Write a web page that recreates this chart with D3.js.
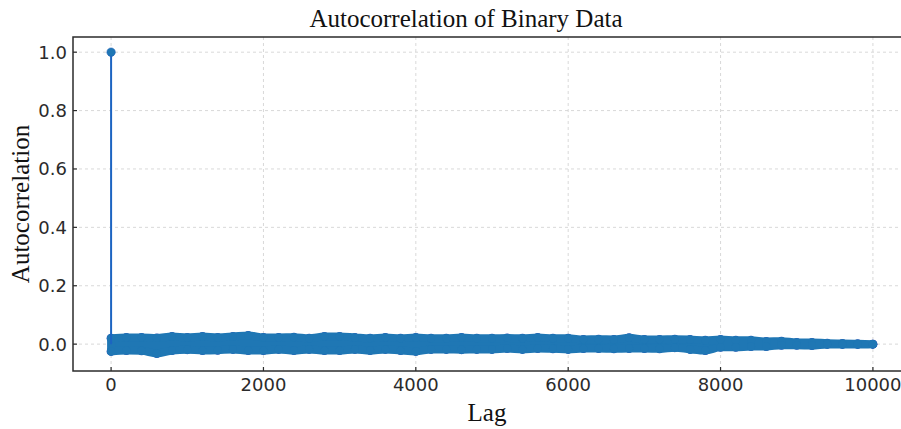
<!DOCTYPE html>
<html>
<head>
<meta charset="utf-8">
<script src="https://cdn.jsdelivr.net/npm/d3@7"></script>
<style>
  body { margin: 0; background: #fff; }
  svg { display: block; }
  .grid line { stroke: #cfcfcf; stroke-width: 0.8; stroke-dasharray: 3,3; }
  .tick-label { font-family: "DejaVu Sans", sans-serif; font-size: 18px; fill: #2b2b2b; }
  .serif { font-family: "Liberation Serif", "Times New Roman", serif; fill: #111; }
</style>
</head>
<body>
<svg id="chart"></svg>
<script>
// Lag 0 (the stem that reaches 1.0)
const peakLag = 0;
const peakValue = 1.0;

// Envelope of the autocorrelation band, every 200 lags
const envLags = [0, 200, 400, 600, 800, 1000, 1200, 1400, 1600, 1800,
  2000, 2200, 2400, 2600, 2800, 3000, 3200, 3400, 3600, 3800,
  4000, 4200, 4400, 4600, 4800, 5000, 5200, 5400, 5600, 5800,
  6000, 6200, 6400, 6600, 6800, 7000, 7200, 7400, 7600, 7800,
  8000, 8200, 8400, 8600, 8800, 9000, 9200, 9400, 9600, 9800, 9999];
const envUpper = [0.020, 0.023, 0.023, 0.021, 0.026, 0.023, 0.026, 0.023, 0.026, 0.030,
  0.023, 0.023, 0.024, 0.020, 0.026, 0.026, 0.023, 0.020, 0.023, 0.020,
  0.023, 0.020, 0.020, 0.023, 0.020, 0.020, 0.021, 0.020, 0.023, 0.020,
  0.020, 0.016, 0.017, 0.016, 0.022, 0.016, 0.016, 0.017, 0.016, 0.013,
  0.016, 0.013, 0.013, 0.009, 0.010, 0.006, 0.006, 0.003, 0.002, 0.001, 0.0];
const envLower = [-0.025, -0.022, -0.023, -0.032, -0.022, -0.019, -0.022, -0.021, -0.018, -0.022,
  -0.022, -0.018, -0.022, -0.018, -0.022, -0.022, -0.018, -0.022, -0.018, -0.022,
  -0.025, -0.018, -0.018, -0.019, -0.018, -0.018, -0.015, -0.018, -0.015, -0.016,
  -0.018, -0.015, -0.015, -0.016, -0.015, -0.015, -0.016, -0.012, -0.018, -0.022,
  -0.011, -0.011, -0.008, -0.008, -0.004, -0.004, -0.005, -0.001, -0.001, -0.001, 0.0];

const xTicks = [0, 2000, 4000, 6000, 8000, 10000];
const yTicks = [0.0, 0.2, 0.4, 0.6, 0.8, 1.0];

const width = 901, height = 429;
const margin = { left: 73, top: 37, bottom: 58 };
const plotRight = 911; // the right spine falls just outside the picture

const svg = d3.select('#chart').attr('width', width).attr('height', height);

const x = d3.scaleLinear().domain([-500, 10500]).range([margin.left, plotRight]);
const y = d3.scaleLinear().domain([-0.092, 1.052]).range([height - margin.bottom, margin.top]);

// grid
const grid = svg.append('g').attr('class', 'grid');
grid.selectAll('.gx').data(xTicks).enter().append('line')
  .attr('x1', d => x(d)).attr('x2', d => x(d))
  .attr('y1', y.range()[1]).attr('y2', y.range()[0]);
grid.selectAll('.gy').data(yTicks).enter().append('line')
  .attr('x1', margin.left).attr('x2', plotRight)
  .attr('y1', d => y(d)).attr('y2', d => y(d));

// band of stems/markers
const env = envLags.map((l, i) => ({ lag: l, hi: envUpper[i], lo: envLower[i] }));
const band = svg.append('g');
const blue = '#1f77b4';

band.selectAll('.rim').data(env.flatMap(d => [[d.lag, d.hi], [d.lag, d.lo]]))
  .enter().append('circle')
  .attr('cx', d => x(d[0])).attr('cy', d => y(d[1])).attr('r', 4.5)
  .attr('fill', '#2750b5');

const area = d3.area()
  .x(d => x(d.lag)).y0(d => y(d.lo)).y1(d => y(d.hi))
  .curve(d3.curveMonotoneX);
band.append('path').datum(env)
  .attr('d', area)
  .attr('fill', blue).attr('stroke', blue)
  .attr('stroke-width', 8).attr('stroke-linejoin', 'round');

band.selectAll('.dot').data(env.flatMap(d => [[d.lag, d.hi], [d.lag, d.lo]]))
  .enter().append('circle')
  .attr('cx', d => x(d[0])).attr('cy', d => y(d[1])).attr('r', 4)
  .attr('fill', blue);

// lag 0 stem
svg.append('line')
  .attr('x1', x(peakLag)).attr('x2', x(peakLag))
  .attr('y1', y(0)).attr('y2', y(peakValue))
  .attr('stroke', '#1c64c2').attr('stroke-width', 2);
svg.append('circle')
  .attr('cx', x(peakLag)).attr('cy', y(peakValue)).attr('r', 4.2)
  .attr('fill', blue).attr('stroke', '#1d5fb8').attr('stroke-width', 0.6);

// spines
const frame = svg.append('g').attr('stroke', '#2b2b2b').attr('stroke-width', 1.5).attr('fill', 'none');
frame.append('rect')
  .attr('x', margin.left).attr('y', margin.top)
  .attr('width', plotRight - margin.left).attr('height', y.range()[0] - margin.top);

// ticks (pointing inward)
const yb = y.range()[0];
svg.append('g').selectAll('line').data(xTicks).enter().append('line')
  .attr('x1', d => x(d)).attr('x2', d => x(d))
  .attr('y1', yb).attr('y2', yb - 4)
  .attr('stroke', '#2b2b2b').attr('stroke-width', 1.2);
svg.append('g').selectAll('line').data(yTicks).enter().append('line')
  .attr('x1', margin.left).attr('x2', margin.left + 4)
  .attr('y1', d => y(d)).attr('y2', d => y(d))
  .attr('stroke', '#2b2b2b').attr('stroke-width', 1.2);

// tick labels
svg.append('g').selectAll('text').data(xTicks).enter().append('text')
  .attr('class', 'tick-label')
  .attr('x', d => x(d)).attr('y', yb + 20)
  .attr('text-anchor', 'middle')
  .text(d => d);
svg.append('g').selectAll('text').data(yTicks).enter().append('text')
  .attr('class', 'tick-label')
  .attr('x', margin.left - 6).attr('y', d => y(d) + 6.5)
  .attr('text-anchor', 'end')
  .text(d => d.toFixed(1));

// title and axis labels
svg.append('text').attr('class', 'serif')
  .attr('x', 466).attr('y', 27).attr('text-anchor', 'middle')
  .style('font-size', '25px')
  .text('Autocorrelation of Binary Data');
svg.append('text').attr('class', 'serif')
  .attr('x', 487).attr('y', 421).attr('text-anchor', 'middle')
  .style('font-size', '25px')
  .text('Lag');
svg.append('text').attr('class', 'serif')
  .attr('transform', 'translate(29,' + 204 + ') rotate(-90)')
  .attr('text-anchor', 'middle')
  .style('font-size', '25px')
  .text('Autocorrelation');
</script>
</body>
</html>
